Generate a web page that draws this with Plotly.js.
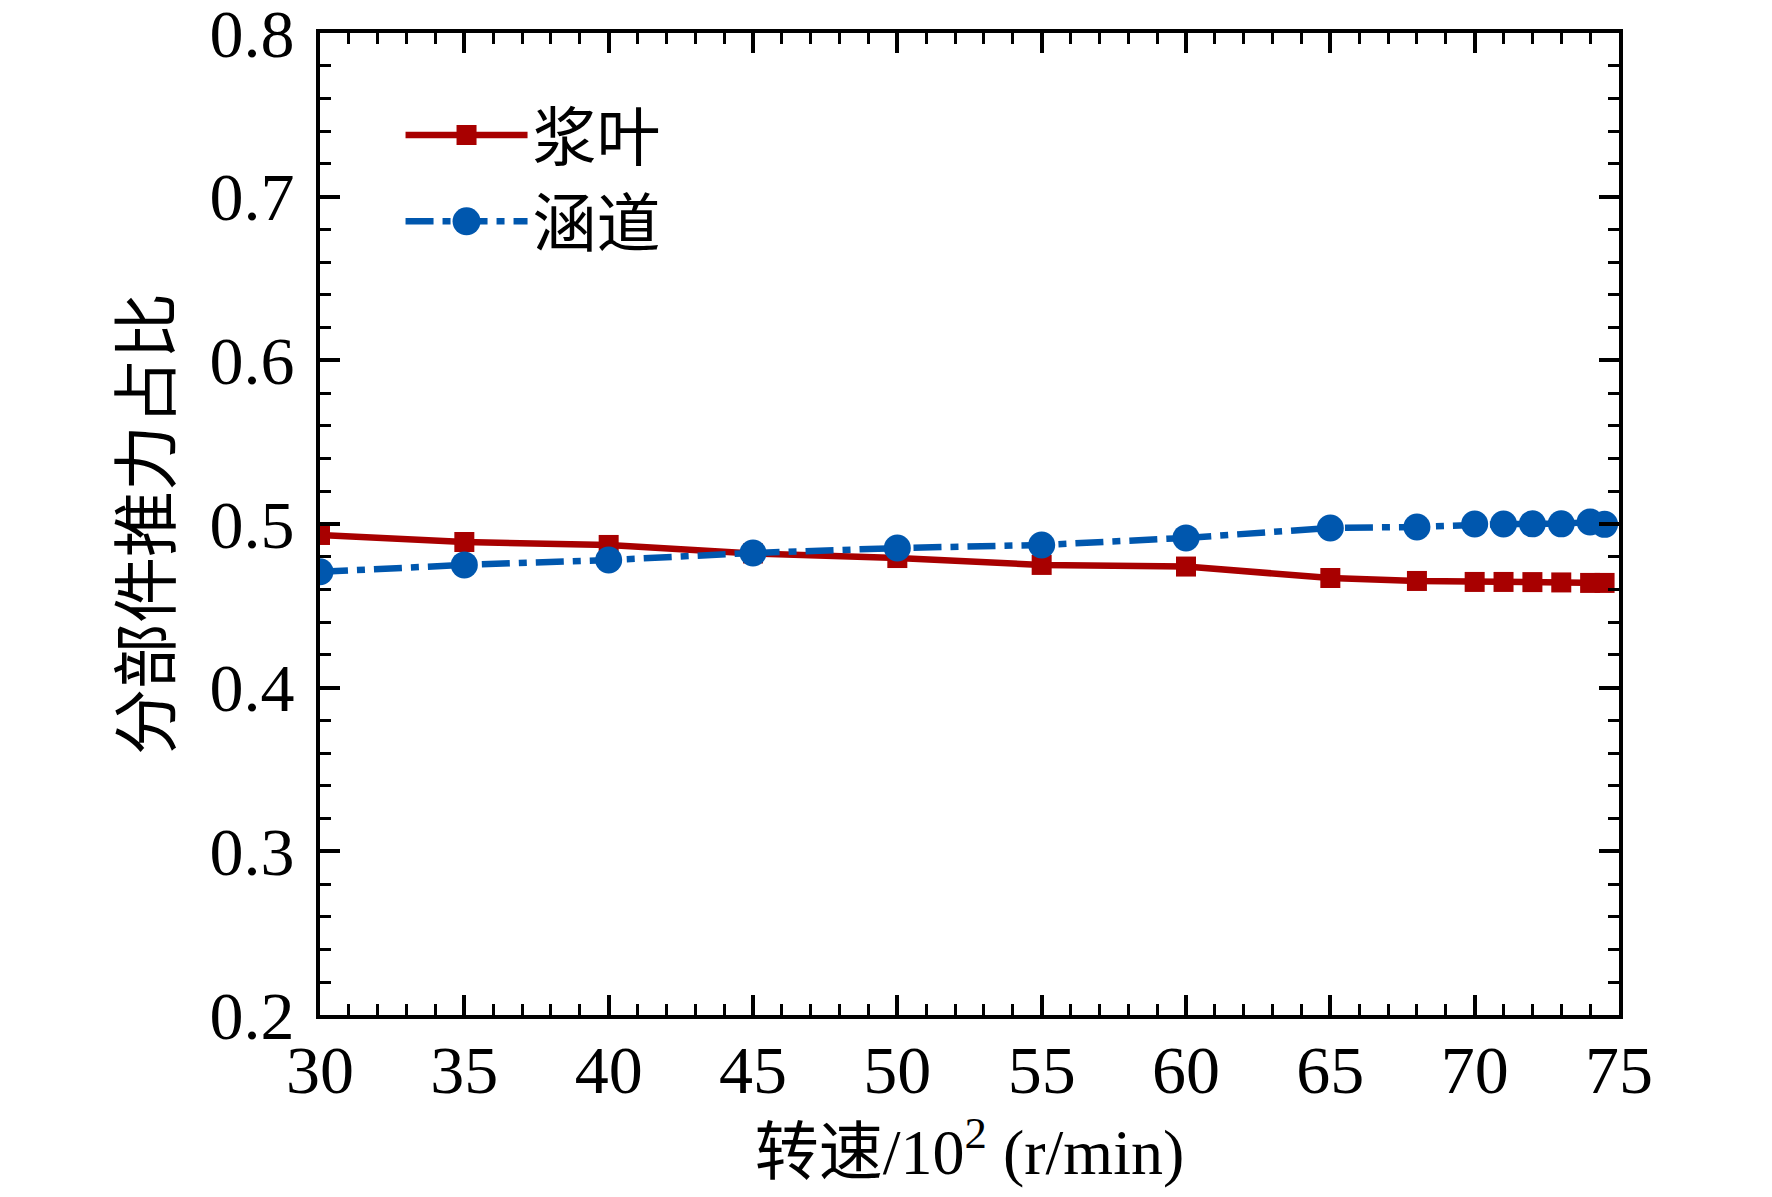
<!DOCTYPE html>
<html>
<head>
<meta charset="utf-8">
<script src="https://cdn.plot.ly/plotly-3.0.1.min.js"></script>
<style>
  html, body { margin: 0; padding: 0; background: #fff; }
  #myDiv { width: 1772px; height: 1197px; }
</style>
</head>
<body>
<div id="myDiv"></div>
<script>
// rotational speed, x100 r/min
var speed = [30, 35, 40, 45, 50, 55, 60, 65, 68, 70, 71, 72, 73, 74, 74.5];

// share of thrust per component
var blade = [0.4933, 0.4890, 0.4872, 0.4820, 0.4792, 0.4750, 0.4740, 0.4670, 0.4652,
             0.4646, 0.4646, 0.4645, 0.4643, 0.4640, 0.4640];
var duct = [0.4708, 0.4750, 0.4780, 0.4823, 0.4853, 0.4872, 0.4915, 0.4976, 0.4982,
            0.5000, 0.5000, 0.5001, 0.5001, 0.5012, 0.4998];

var yTicks = [0.2, 0.3, 0.4, 0.5, 0.6, 0.7, 0.8];
var yTickText = ["0.2", "0.3", "0.4", "0.5", "0.6", "0.7", "0.8"];

var serif = "'Liberation Serif', 'Times New Roman', 'Noto Sans CJK SC', serif";

var trace1 = {
  x: speed,
  y: blade,
  mode: "lines+markers",
  name: "浆叶",
  type: "scatter",
  line: {color: "#a80000", width: 6.5},
  marker: {symbol: "square", size: 20, color: "#a80000"}
};

var trace2 = {
  x: speed,
  y: duct,
  mode: "lines+markers",
  name: "涵道",
  type: "scatter",
  line: {color: "#0057ae", width: 6.5, dash: "28px,9px,8px,9px"},
  marker: {symbol: "circle", size: 27, color: "#0057ae"}
};

var axisCommon = {
  showline: true,
  linecolor: "#000",
  linewidth: 4,
  mirror: "ticks",
  ticks: "inside",
  ticklen: 20,
  tickwidth: 4,
  tickcolor: "#000",
  showgrid: false,
  zeroline: false,
  ticklabeloverflow: "allow",
  tickfont: {family: serif, size: 68, color: "#000"}
};

var layout = {
  width: 1772,
  height: 1197,
  margin: {l: 320, r: 153, t: 33, b: 182},
  paper_bgcolor: "#fff",
  plot_bgcolor: "#fff",
  font: {family: serif, color: "#000"},
  showlegend: true,
  legend: {
    x: 0.062,
    y: 0.945,
    xanchor: "left",
    yanchor: "top",
    bgcolor: "rgba(0,0,0,0)",
    itemwidth: 122,
    font: {family: serif, size: 64, color: "#000"}
  },
  xaxis: Object.assign({}, axisCommon, {
    range: [30, 75],
    dtick: 5,
    tick0: 30,
    ticklabelstandoff: -8,
    minor: {ticks: "inside", ticklen: 11, tickwidth: 3, tickcolor: "#000", dtick: 1, showgrid: false},
    title: {text: "转速/10<sup>2</sup> (r/min)", font: {family: serif, size: 64, color: "#000"}, standoff: 14}
  }),
  yaxis: Object.assign({}, axisCommon, {
    range: [0.2, 0.8],
    tickmode: "array",
    tickvals: yTicks,
    ticktext: yTickText,
    ticklabelstandoff: 8,
    minor: {ticks: "inside", ticklen: 11, tickwidth: 3, tickcolor: "#000", dtick: 0.02, tick0: 0.2, showgrid: false},
    title: {text: "分部件推力占比", font: {family: serif, size: 66, color: "#000"}, standoff: 18}
  })
};

Plotly.newPlot('myDiv', [trace1, trace2], layout, {displayModeBar: false}).then(function (gd) {
  // legend symbols are capped in size by plotly; enlarge them to match the plot markers
  var pts = gd.querySelectorAll('.legend .legendpoints path.scatterpts');
  var scales = [20 / 16, 28 / 16];
  pts.forEach(function (p, i) {
    var t = p.getAttribute('transform') || '';
    p.setAttribute('transform', t + ' scale(' + scales[Math.min(i, 1)] + ')');
  });
});
</script>
</body>
</html>
